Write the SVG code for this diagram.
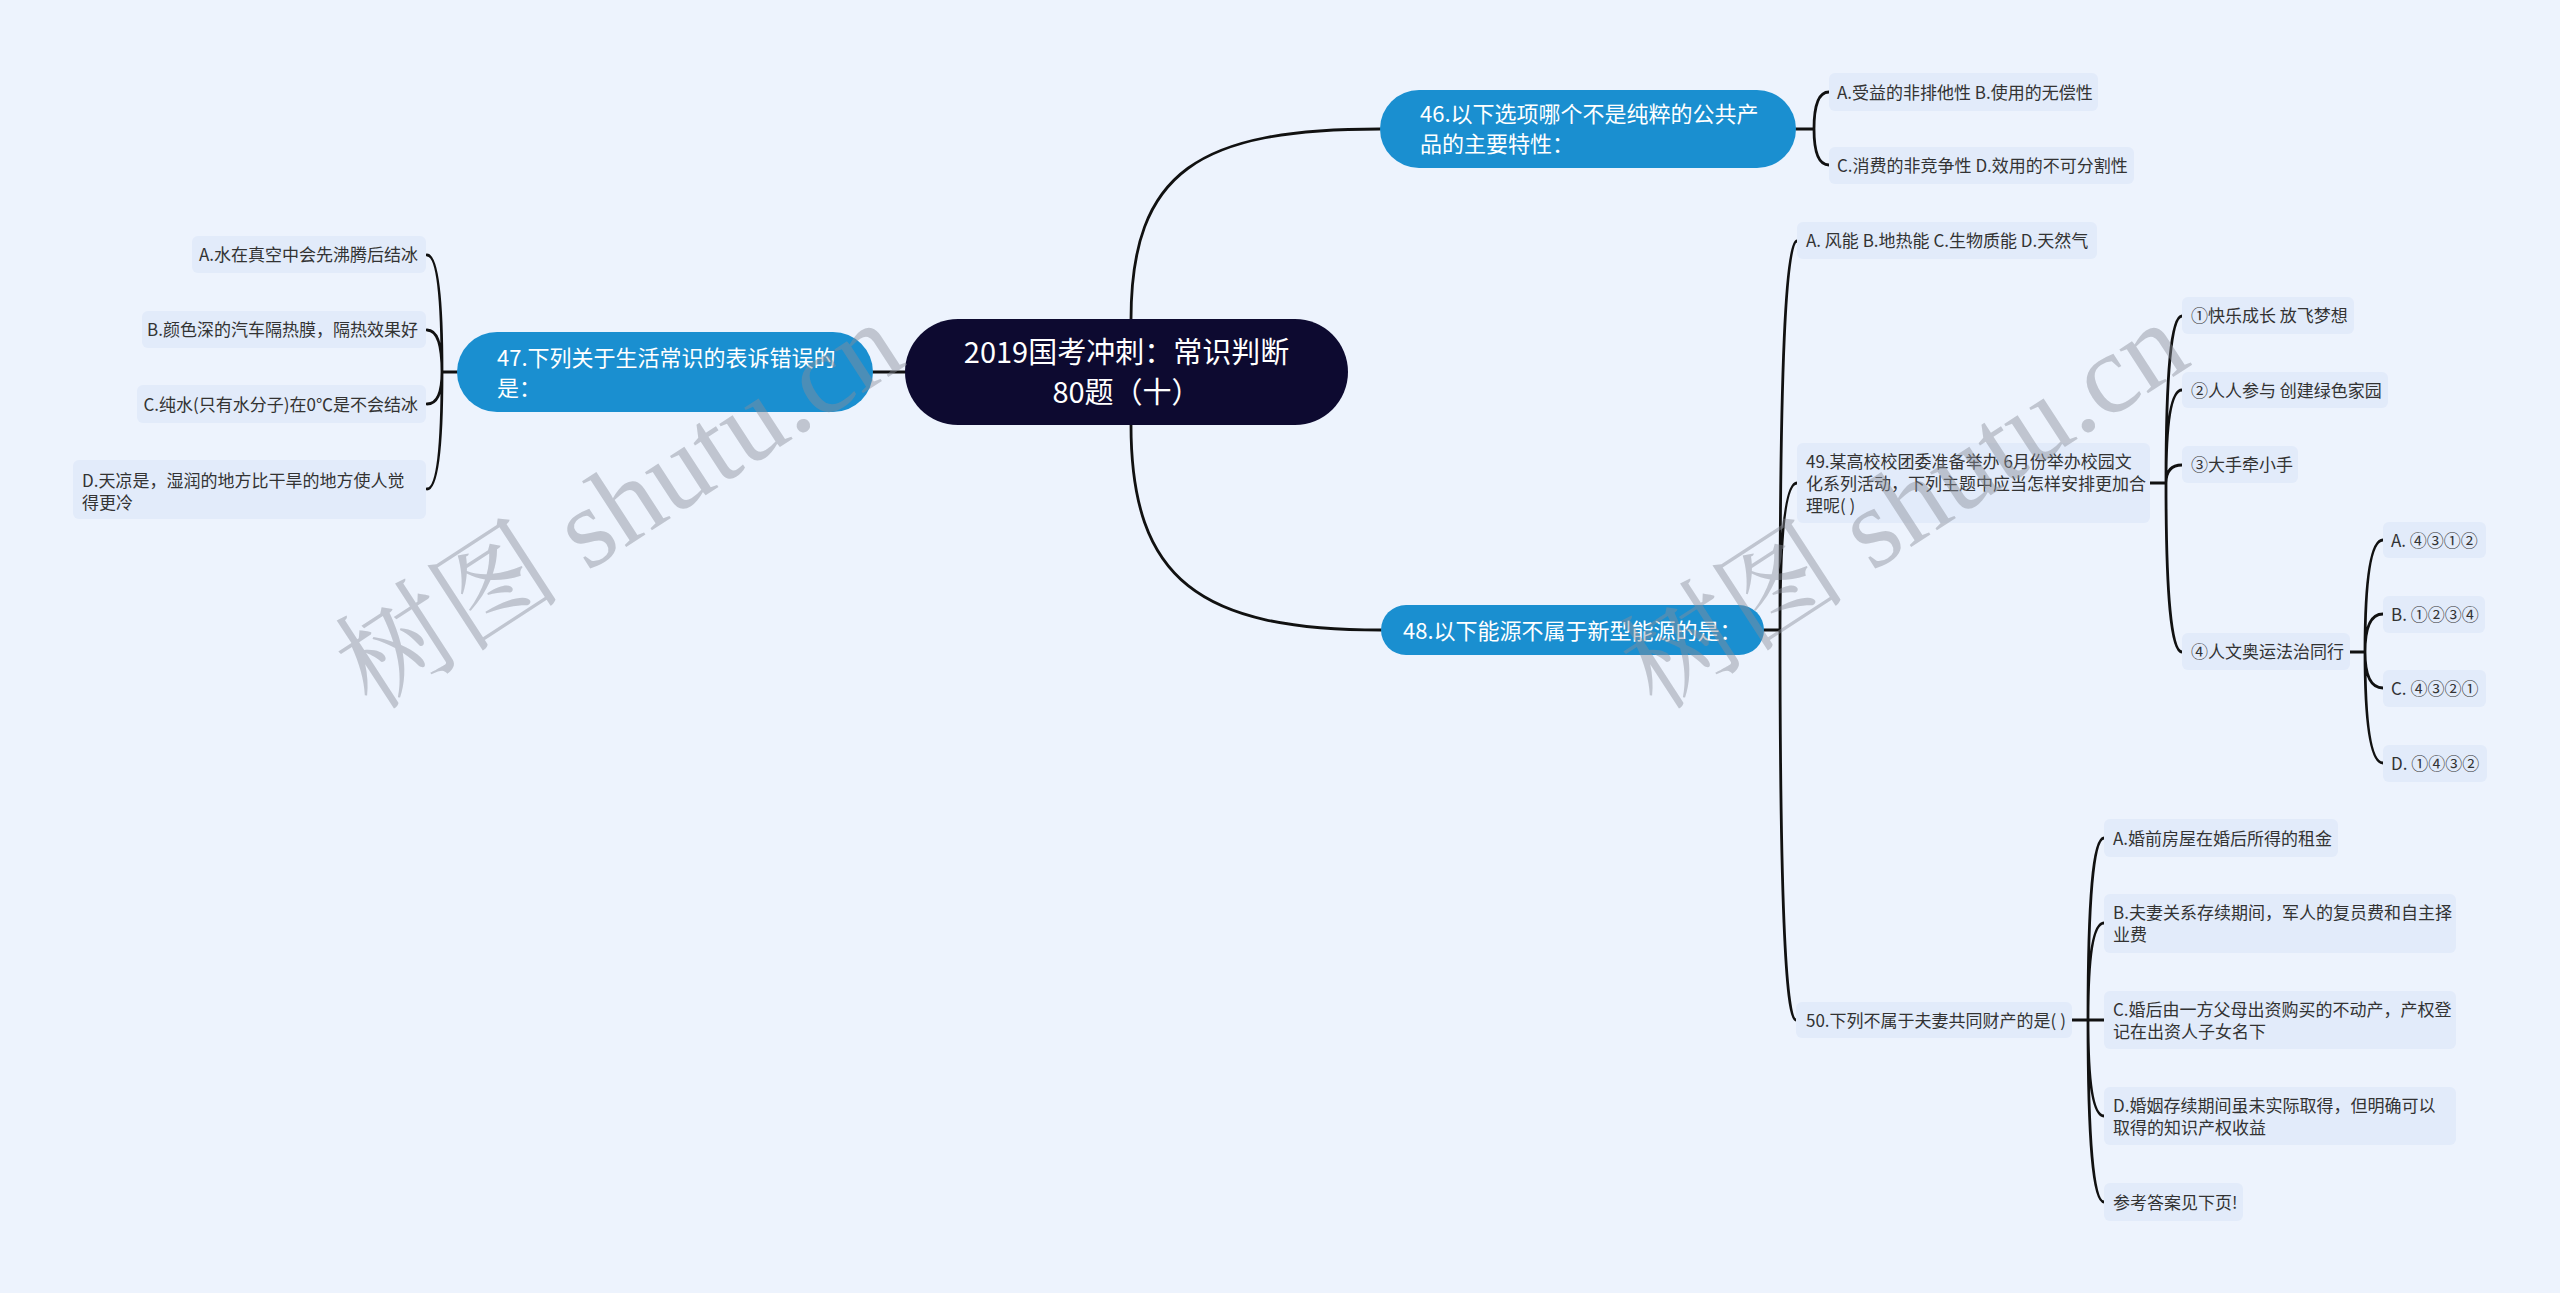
<svg xmlns="http://www.w3.org/2000/svg" width="2560" height="1293" viewBox="0 0 2560 1293">
<style>
.bg{fill:#edf3fd}
.root{fill:#0d0a30}
.main{fill:#1a8fd0}
.sub{fill:#e2ebfa}
.tw{fill:#ffffff;font-family:"Noto Sans CJK SC","Liberation Sans",sans-serif}
.t{fill:#333333;font-family:"Noto Sans CJK SC","Liberation Sans",sans-serif;font-size:17px}
.tr{font-size:29px}
.tm{font-size:22px}
.line{fill:none;stroke:#111111;stroke-width:2.8;stroke-linecap:round}
.wm{fill:#8a8f99;fill-opacity:0.45;font-family:"Liberation Serif","Noto Serif CJK SC","Noto Sans CJK SC",serif;font-size:114px}
</style>
<rect class="bg" x="0" y="0" width="2560" height="1293"/>
<g id="connectors">
<path class="line" d="M1131,320 C1131,170 1200,129 1380,129"/>
<path class="line" d="M1131,425 C1131,580 1200,630 1381,630"/>
<path class="line" d="M905,372 L873,372"/>
<path class="line" d="M1796,129 L1814,129 M1814,129 Q1814,92 1829,92 M1814,129 Q1814,165 1829,165"/>
<path class="line" d="M457,372 L442,372 M442,372 Q442,255 427,255 M442,372 Q442,330 427,330 M442,372 Q442,404 427,404 M442,372 Q442,489 427,489"/>
<path class="line" d="M1764,630 L1780,630 M1780,630 Q1780,241 1797,241 M1780,630 Q1780,483 1797,483 M1780,630 Q1780,1020 1796,1020"/>
<path class="line" d="M2150,483 L2166,483 M2166,483 Q2166,316 2182,316 M2166,483 Q2166,390 2182,390 M2166,483 Q2166,465 2182,465 M2166,483 Q2166,652 2182,652"/>
<path class="line" d="M2350,652 L2365,652 M2365,652 Q2365,540 2383,540 M2365,652 Q2365,614 2383,614 M2365,652 Q2365,688 2383,688 M2365,652 Q2365,763 2383,763"/>
<path class="line" d="M2072,1020 L2088,1020 M2088,1020 Q2088,838 2104,838 M2088,1020 Q2088,923 2104,923 M2088,1020 L2104,1020 M2088,1020 Q2088,1116 2104,1116 M2088,1020 Q2088,1202 2104,1202"/>
</g>
<g id="root">
<rect class="root" x="905" y="319" width="443" height="106" rx="53"/>
<text class="tw tr" x="1126.5" y="363" text-anchor="middle">2019国考冲刺：常识判断</text>
<text class="tw tr" x="1126.5" y="403" text-anchor="middle">80题（十）</text>
</g>
<g id="n46">
<rect class="main" x="1380" y="90" width="416" height="78" rx="39"/>
<text class="tw tm" x="1420" y="122">46.以下选项哪个不是纯粹的公共产</text>
<text class="tw tm" x="1420" y="152">品的主要特性：</text>
</g>
<g id="n46a">
<rect class="sub" x="1829" y="73" width="269" height="38" rx="6"/>
<text class="t" x="1837" y="98.5">A.受益的非排他性 B.使用的无偿性</text>
</g>
<g id="n46c">
<rect class="sub" x="1829" y="147" width="305" height="37" rx="6"/>
<text class="t" x="1837" y="172">C.消费的非竞争性 D.效用的不可分割性</text>
</g>
<g id="n47">
<rect class="main" x="457" y="332" width="416" height="80" rx="40"/>
<text class="tw tm" x="497" y="366">47.下列关于生活常识的表诉错误的</text>
<text class="tw tm" x="497" y="396">是：</text>
</g>
<g id="n47a">
<rect class="sub" x="192" y="236" width="234" height="37" rx="6"/>
<text class="t" x="418" y="261" text-anchor="end">A.水在真空中会先沸腾后结冰</text>
</g>
<g id="n47b">
<rect class="sub" x="142" y="311" width="284" height="37" rx="6"/>
<text class="t" x="418" y="336" text-anchor="end">B.颜色深的汽车隔热膜，隔热效果好</text>
</g>
<g id="n47c">
<rect class="sub" x="137" y="385" width="289" height="38" rx="6"/>
<text class="t" x="418" y="410.5" text-anchor="end">C.纯水(只有水分子)在0℃是不会结冰</text>
</g>
<g id="n47d">
<rect class="sub" x="73" y="460" width="353" height="59" rx="6"/>
<text class="t" x="82" y="486.5">D.天凉是，湿润的地方比干旱的地方使人觉</text>
<text class="t" x="82" y="508.5">得更冷</text>
</g>
<g id="n48">
<rect class="main" x="1381" y="605" width="383" height="50" rx="25"/>
<text class="tw tm" x="1403" y="638.5">48.以下能源不属于新型能源的是：</text>
</g>
<g id="n48a">
<rect class="sub" x="1797" y="222" width="300" height="37" rx="6"/>
<text class="t" x="1806" y="247">A. 风能 B.地热能 C.生物质能 D.天然气</text>
</g>
<g id="n49">
<rect class="sub" x="1797" y="443" width="353" height="80" rx="6"/>
<text class="t" x="1806" y="467.5">49.某高校校团委准备举办 6月份举办校园文</text>
<text class="t" x="1806" y="489.5">化系列活动，下列主题中应当怎样安排更加合</text>
<text class="t" x="1806" y="511.5">理呢( )</text>
</g>
<g id="n49-1">
<rect class="sub" x="2182" y="297" width="172" height="37" rx="6"/>
<text class="t" x="2191" y="322">①快乐成长 放飞梦想</text>
</g>
<g id="n49-2">
<rect class="sub" x="2182" y="372" width="206" height="36" rx="6"/>
<text class="t" x="2191" y="396.5">②人人参与 创建绿色家园</text>
</g>
<g id="n49-3">
<rect class="sub" x="2182" y="446" width="116" height="37" rx="6"/>
<text class="t" x="2191" y="471">③大手牵小手</text>
</g>
<g id="n49-4">
<rect class="sub" x="2182" y="633" width="168" height="37" rx="6"/>
<text class="t" x="2191" y="658">④人文奥运法治同行</text>
</g>
<g id="n49-4a">
<rect class="sub" x="2383" y="522" width="103" height="36" rx="6"/>
<text class="t" x="2391" y="546.5">A. ④③①②</text>
</g>
<g id="n49-4b">
<rect class="sub" x="2383" y="596" width="102" height="37" rx="6"/>
<text class="t" x="2391" y="621">B. ①②③④</text>
</g>
<g id="n49-4c">
<rect class="sub" x="2383" y="670" width="103" height="37" rx="6"/>
<text class="t" x="2391" y="695">C. ④③②①</text>
</g>
<g id="n49-4d">
<rect class="sub" x="2383" y="745" width="104" height="37" rx="6"/>
<text class="t" x="2391" y="770">D. ①④③②</text>
</g>
<g id="n50">
<rect class="sub" x="1796" y="1002" width="276" height="36" rx="6"/>
<text class="t" x="1806" y="1026.5">50.下列不属于夫妻共同财产的是( )</text>
</g>
<g id="n50a">
<rect class="sub" x="2104" y="819" width="234" height="38" rx="6"/>
<text class="t" x="2113" y="844.5">A.婚前房屋在婚后所得的租金</text>
</g>
<g id="n50b">
<rect class="sub" x="2104" y="894" width="352" height="59" rx="6"/>
<text class="t" x="2113" y="919">B.夫妻关系存续期间，军人的复员费和自主择</text>
<text class="t" x="2113" y="941">业费</text>
</g>
<g id="n50c">
<rect class="sub" x="2104" y="991" width="352" height="58" rx="6"/>
<text class="t" x="2113" y="1015.5">C.婚后由一方父母出资购买的不动产，产权登</text>
<text class="t" x="2113" y="1037.5">记在出资人子女名下</text>
</g>
<g id="n50d">
<rect class="sub" x="2104" y="1087" width="352" height="58" rx="6"/>
<text class="t" x="2113" y="1111.5">D.婚姻存续期间虽未实际取得，但明确可以</text>
<text class="t" x="2113" y="1133.5">取得的知识产权收益</text>
</g>
<g id="n50e">
<rect class="sub" x="2104" y="1183" width="139" height="38" rx="6"/>
<text class="t" x="2113" y="1208.5">参考答案见下页!</text>
</g>
<g id="watermark">
<text class="wm" transform="translate(372,712) rotate(-33)">树图 shutu.cn</text>
<text class="wm" transform="translate(1657,712) rotate(-33)">树图 shutu.cn</text>
</g>
</svg>
